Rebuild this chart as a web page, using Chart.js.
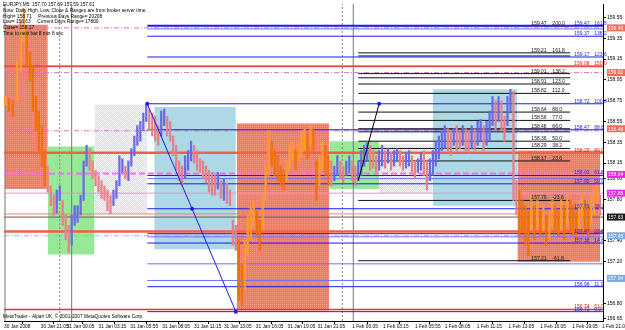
<!DOCTYPE html>
<html>
<head>
<meta charset="utf-8">
<script src="https://cdn.jsdelivr.net/npm/chart.js@4.4.1/dist/chart.umd.min.js"></script>
<style>
  html, body { margin: 0; padding: 0; background: #fff; }
</style>
</head>
<body>
<canvas id="myChart" width="625" height="330"></canvas>
<script>
// EURJPY M5 bars, one unit on the x axis = one bar
var barIndex = [2,6,10,14,18,21,24,27,30,33,36,39,42,45,
  48,51,54,57,60,63,66,69,72,75,78,81,84,87,90,
  93,96,99,102,105,108,111,114,117,120,123,126,129,132,135,138,141,144,
  147,150,153,156,159,162,165,168,171,174,177,180,183,186,189,192,195,198,201,204,207,210,213,216,219,222,225,228,231,234,
  237,240,243,246,249,252,255,258,261,264,267,270,273,276,279,282,285,288,291,294,297,300,303,306,309,312,315,318,321,324,327,
  330,333,336,339,342,345,348,351,354,357,360,363,366,369,372,375,378,
  381,384,387,390,393,396,399,402,405,408,411,414,417,420,423,426,429,
  432,435,438,441,444,447,450,453,456,459,462,465,468,471,474,477,480,483,486,489,492,495,498,501,504,507,510,513,
  516,519,522,525,528,531,534,537,540,543,546,549,552,555,558,561,564,567,570,573,576,579,582,585,588,591,594,597,600];

var barHigh = [158.79,158.77,158.75,159.13,159.51,159.63,159.42,159.22,159.08,158.79,158.65,158.51,158.27,158.12,
  157.93,157.84,157.89,157.93,157.79,157.65,157.55,157.65,157.74,157.74,157.84,158.17,158.32,158.29,158.17,
  158.08,158.03,157.98,157.93,157.89,157.84,157.89,157.98,158.22,158.19,158.12,158.17,158.29,158.41,158.51,158.55,158.63,158.72,
  158.67,158.63,158.60,158.51,158.65,158.67,158.60,158.55,158.41,158.32,158.17,158.12,158.22,158.27,158.36,158.32,158.27,158.19,158.17,158.12,158.08,158.06,158.03,158.06,157.98,158.00,157.96,157.89,157.60,157.55,
  157.41,157.17,157.41,157.65,157.74,157.79,157.69,157.60,157.84,158.12,158.46,158.36,158.27,158.22,158.12,158.08,158.17,158.32,158.36,158.27,158.36,158.46,158.48,158.44,158.51,158.48,158.17,158.22,158.36,158.32,158.22,
  158.17,158.12,158.22,158.17,158.12,158.17,158.22,158.17,158.12,158.17,158.27,158.32,158.36,158.32,158.27,158.22,158.27,
  158.32,158.27,158.29,158.25,158.27,158.29,158.27,158.22,158.25,158.27,158.22,158.17,158.19,158.25,158.27,158.17,158.19,
  158.27,158.36,158.41,158.46,158.51,158.48,158.46,158.48,158.51,158.46,158.51,158.48,158.46,158.51,158.48,158.55,158.57,158.51,158.55,158.65,158.79,158.75,158.79,158.75,158.60,158.79,158.86,158.84,
  157.98,157.89,157.79,157.74,157.69,157.84,157.74,157.79,157.69,157.74,157.65,157.69,157.79,157.74,157.69,157.79,157.74,157.84,157.79,157.74,157.69,157.79,157.84,157.79,157.74,157.84,157.89,157.93,157.84];

var barLow = [158.70,158.65,158.60,158.75,159.03,159.32,159.08,158.94,158.65,158.46,158.27,158.12,157.93,157.87,
  157.74,157.65,157.67,157.79,157.55,157.41,157.29,157.36,157.55,157.58,157.65,157.79,158.12,158.08,158.00,
  157.93,157.87,157.81,157.79,157.69,157.66,157.74,157.81,157.93,158.06,158.00,157.98,158.12,158.22,158.32,158.36,158.46,158.55,
  158.46,158.41,158.36,158.32,158.41,158.51,158.41,158.36,158.22,158.08,157.98,157.93,158.00,158.08,158.17,158.15,158.08,158.06,158.00,157.96,157.87,157.84,157.84,157.90,157.81,157.79,157.76,157.74,157.36,157.31,
  156.83,156.78,156.93,157.26,157.41,157.55,157.45,157.31,157.50,157.79,158.03,158.12,158.03,157.98,157.93,157.89,157.98,158.08,158.17,158.08,158.17,158.22,158.27,158.19,158.32,158.27,157.79,157.93,158.08,158.03,157.93,
  157.93,157.98,158.03,158.00,157.96,158.03,158.06,157.98,157.93,157.98,158.03,158.12,158.17,158.08,158.10,158.06,158.08,
  158.12,158.10,158.15,158.08,158.12,158.17,158.12,158.08,158.10,158.12,158.06,158.00,158.06,158.08,158.03,157.89,157.98,
  158.03,158.12,158.19,158.27,158.29,158.27,158.22,158.32,158.27,158.29,158.32,158.27,158.25,158.29,158.27,158.32,158.36,158.27,158.32,158.36,158.51,158.46,158.55,158.46,158.36,158.51,158.65,157.79,
  157.65,157.45,157.50,157.36,157.26,157.50,157.41,157.55,157.45,157.50,157.36,157.41,157.55,157.50,157.45,157.50,157.41,157.55,157.50,157.45,157.41,157.52,157.60,157.50,157.45,157.55,157.65,157.74,157.65];

// session boxes
var boxStart = [2, 45, 92, 152, 235, 328, 378, 432, 517];
var boxEnd   = [45, 92, 145, 234, 328, 378, 432, 517, 600];
var boxHigh  = [159.48, 158.31, 158.71, 158.69, 158.53, 158.36, 158.33, 158.86, 158.27];
var boxLow   = [157.90, 157.27, 157.66, 157.32, 156.73, 157.90, 157.86, 157.74, 157.20];
var boxKind  = ['red', 'green', 'grey', 'blue', 'red', 'green', 'grey', 'blue', 'red'];

// daily high/low/pivot levels across the whole chart
var fullLevel = [159.45, 159.08, 159.02, 158.46, 158.25, 158.05, 157.86, 157.66, 157.63, 157.49, 157.45, 156.74];
var fullLabel = ['', '150.0', '', '', '80.0', '', '', '', '', '', '', '51.0'];

// fibonacci tool 1 (blue) and tool 2 (black)
var bluePrice = [159.47, 159.44, 159.37, 159.17, 158.72, 158.47, 158.03, 158.00, 157.95, 157.71, 157.47, 157.44, 157.38, 157.18, 157.02, 156.96, 156.72];
var blueLabel = ['161.8', '', '138.2', '123.6', '100.0', '88.6', '61.8', '', '50.0', '38.2', '23.6', '', '14.6', '', '', '11.0', '0.0'];
var blackPrice = [159.47, 159.21, 159.18, 159.01, 158.97, 158.91, 158.82, 158.64, 158.56, 158.48, 158.45, 158.36, 158.29, 158.17, 157.79, 157.21];
var blackLabel = ['200.0', '161.8', '', '138.2', '', '123.0', '112.0', '88.0', '77.0', '66.0', '', '50.0', '38.2', '23.6', '-23.6', '-61.8'];
var blueLegX = [145, 190, 234];
var blueLegY = [158.72, 157.71, 156.72];
var blackLegX = [357, 378];
var blackLegY = [157.98, 158.72];

// period separators
var sepSolid = [2, 69, 352];
var sepDotted = [57, 341];

// price tags on the right axis
var tagValue = [159.45, 159.02, 158.48, 158.04, 157.86, 157.63, 157.45, 157.04];

var xTickPos = [1, 38, 64, 96, 128, 160, 192, 222, 254, 286, 316, 351, 382, 414, 444, 476, 508, 540, 572, 602];
var xTickLabels = ['30 Jan 2008', '30 Jan 21:05', '31 Jan 00:05', '31 Jan 03:15', '31 Jan 05:55', '31 Jan 08:05',
  '31 Jan 11:15', '31 Jan 13:05', '31 Jan 16:05', '31 Jan 19:05', '31 Jan 21:05', '1 Feb 00:05', '1 Feb 03:15',
  '1 Feb 05:55', '1 Feb 08:05', '1 Feb 11:15', '1 Feb 13:05', '1 Feb 16:05', '1 Feb 19:05', '1 Feb 21:05'];
var yTickValues = [159.55, 159.35, 159.15, 158.95, 158.75, 158.55, 158.35, 158.15, 158.00, 157.80, 157.40, 157.20, 156.80, 156.65];

var infoLines = [
  'EURJPY,M5  157.70 157.69 157.59 157.61',
  'Note: Daily High, Low, Close & Ranges are from broker server time.',
  'High= 158.71     Previous Days Range= 20208',
  'Low= 156.63     Current Days Range= 17800',
  'Close= 158.17',
  'Time to next bar 8 min 8 sec'
];
var copyright = 'MetaTrader - Alpari UK, \u00a9 2001-2007 MetaQuotes Software Corp.';

var yMin = 156.63, yMax = 159.68;
var FONT = '"Liberation Sans", Arial, sans-serif';

// styles
var fullColor = ['#e070c8', '#f05040', '#e070c8', '#e070c8', '#f06048', '#f070f0', '#f090d0', '#f08070', '#606060', '#f06048', '#87bde8', '#f03020'];
var fullWidth = [1, 2, 1, 1, 2.5, 2, 1, 1, 1, 2.5, 1, 1.5];
var fullDash = [[5,2,1,2], [], [5,2,1,2], [5,2,1,2], [], [6,3], [], [], [], [], [5,2,1,2], []];
var colA = 531, colB = 574;
var tagColor = ['#f26b5b', '#f26b5b', '#f26b5b', '#ee22ee', '#ee22ee', '#1a1a1a', '#7aa8e8', '#7aa8e8'];

function dotted(base, dot, checker) {
  var c = document.createElement('canvas');
  c.width = 2; c.height = 2;
  var g = c.getContext('2d');
  g.fillStyle = base; g.fillRect(0, 0, 2, 2);
  g.fillStyle = dot; g.fillRect(0, 0, 1, 1);
  if (checker) g.fillRect(1, 1, 1, 1);
  return g.createPattern(c, 'repeat');
}
var boxFill = {
  red: dotted('#f27a64', '#f69a88', false),
  green: '#97e897',
  grey: dotted('#d6d6e0', '#ffffff', true),
  blue: '#add8e6'
};

function kindAt(x) {
  for (var i = 0; i < boxStart.length; i++) {
    if (x >= boxStart[i] && x < boxEnd[i]) return boxKind[i];
  }
  return 'none';
}
var barColors = barIndex.map(function (x, i) {
  var mid = (barHigh[i] + barLow[i]) / 2;
  var prev = i > 0 ? (barHigh[i - 1] + barLow[i - 1]) / 2 : mid;
  if (kindAt(x) === 'red') return mid >= prev ? '#ff9a30' : '#ee7000';
  return mid >= prev ? '#6a6ae8' : '#e8808a';
});

function hline(x0, x1, y, color, width, dash, order) {
  return {
    type: 'line',
    data: [{x: x0, y: y}, {x: x1, y: y}],
    borderColor: color, borderWidth: width, borderDash: dash || [],
    pointRadius: 0, fill: false, order: order
  };
}

var datasets = [];

boxStart.forEach(function (x0, i) {
  datasets.push({
    type: 'line',
    data: [{x: x0, y: boxHigh[i]}, {x: boxEnd[i], y: boxHigh[i]}],
    fill: {value: boxLow[i]},
    backgroundColor: boxFill[boxKind[i]],
    borderColor: 'transparent', borderWidth: 0, pointRadius: 0, order: 20
  });
});

sepSolid.forEach(function (x) {
  datasets.push({type: 'line', data: [{x: x, y: yMin}, {x: x, y: yMax}], borderColor: '#777', borderWidth: 1, pointRadius: 0, order: 15});
});
sepDotted.forEach(function (x) {
  datasets.push({type: 'line', data: [{x: x, y: yMin}, {x: x, y: yMax}], borderColor: '#888', borderWidth: 1, borderDash: [2, 2], pointRadius: 0, order: 15});
});

fullLevel.forEach(function (p, i) {
  datasets.push(hline(1, 603, p, fullColor[i], fullWidth[i], fullDash[i], 8));
});
bluePrice.forEach(function (p, i) {
  var light = blueLabel[i] === '';
  datasets.push(hline(145, 603, p, light ? '#6f6fff' : '#1c1cf0', i === 0 ? 2 : 1, [], 7));
});
blackPrice.forEach(function (p) {
  datasets.push(hline(357, 570, p, '#111', 1, [], 7));
});

datasets.push({
  type: 'bar',
  data: barIndex.map(function (x, i) { return {x: x, y: [barLow[i], barHigh[i]]}; }),
  backgroundColor: barColors,
  barThickness: 1.6,
  order: 3
});

datasets.push({
  type: 'line',
  data: blueLegX.map(function (x, i) { return {x: x, y: blueLegY[i]}; }),
  borderColor: '#1c1cf0', borderWidth: 1, pointRadius: 2, pointBackgroundColor: '#1c1cf0', pointBorderWidth: 0, order: 1
});
datasets.push({
  type: 'line',
  data: blackLegX.map(function (x, i) { return {x: x, y: blackLegY[i]}; }),
  borderColor: '#000', borderWidth: 1, pointRadius: [0, 2], pointBackgroundColor: '#1c1cf0', pointBorderWidth: 0, order: 1
});

var overlay = {
  id: 'overlay',
  afterDraw: function (chart) {
    var ctx = chart.ctx, xs = chart.scales.x, ys = chart.scales.y, area = chart.chartArea;
    ctx.save();
    ctx.font = '5px ' + FONT;
    ctx.textAlign = 'left';

    // fib labels
    ctx.textBaseline = 'bottom';
    blackPrice.forEach(function (p, i) {
      if (!blackLabel[i]) return;
      var y = ys.getPixelForValue(p);
      ctx.fillStyle = '#111';
      ctx.fillText(p.toFixed(2), xs.getPixelForValue(colA), y);
      ctx.fillText(blackLabel[i], xs.getPixelForValue(colA) + 21, y);
    });
    bluePrice.forEach(function (p, i) {
      if (!blueLabel[i]) return;
      var y = ys.getPixelForValue(p);
      ctx.fillStyle = '#1c1cf0';
      ctx.fillText(p.toFixed(2), xs.getPixelForValue(colB), y);
      ctx.fillText(blueLabel[i], xs.getPixelForValue(colB) + 20, y);
    });
    fullLevel.forEach(function (p, i) {
      if (!fullLabel[i]) return;
      var y = ys.getPixelForValue(p);
      ctx.fillStyle = '#e02010';
      ctx.fillText(p.toFixed(2), xs.getPixelForValue(colB), y);
      ctx.fillText(fullLabel[i], xs.getPixelForValue(colB) + 20, y);
    });

    // info text
    ctx.font = '4.8px ' + FONT;
    ctx.textBaseline = 'middle';
    ctx.fillStyle = '#000';
    infoLines.forEach(function (t, i) {
      ctx.fillText(t, 3, 5 + i * 5.7);
    });
    ctx.fillText(copyright, 3, area.bottom - 4);

    // price tags
    ctx.font = '5px ' + FONT;
    tagValue.forEach(function (v, i) {
      var y = ys.getPixelForValue(v);
      ctx.fillStyle = tagColor[i];
      ctx.fillRect(area.right + 4, y - 3.5, 625 - area.right - 4, 7);
      ctx.fillStyle = '#fff';
      ctx.fillText(v.toFixed(2), area.right + 5, y + 0.5);
    });
    ctx.restore();
  }
};

var ctx = document.getElementById('myChart');
var myChart = new Chart(ctx, {
  type: 'bar',
  data: { datasets: datasets },
  plugins: [overlay],
  options: {
    responsive: false,
    animation: false,
    layout: { padding: { top: 2, left: 1, right: 0, bottom: 0 } },
    plugins: { legend: { display: false }, tooltip: { enabled: false } },
    scales: {
      x: {
        type: 'linear', min: 1, max: 603, offset: false,
        afterBuildTicks: function (s) { s.ticks = xTickPos.map(function (v) { return {value: v}; }); },
        afterFit: function (s) { s.height = 9; s.paddingLeft = 0; s.paddingRight = 0; },
        ticks: {
          autoSkip: false, maxRotation: 0, minRotation: 0, align: 'start', padding: 0,
          color: '#000', font: { family: FONT, size: 4.8 },
          callback: function (v, i) { return xTickLabels[i]; }
        },
        grid: { drawOnChartArea: false, tickLength: 3, color: '#000' },
        border: { color: '#000' }
      },
      y: {
        position: 'right', min: yMin, max: yMax, beginAtZero: false,
        afterBuildTicks: function (s) { s.ticks = yTickValues.map(function (v) { return {value: v}; }); },
        afterFit: function (s) { s.width = 22; s.paddingTop = 0; s.paddingBottom = 0; },
        ticks: {
          padding: 1, color: '#000', font: { family: FONT, size: 5 },
          callback: function (v) { return v.toFixed(2); }
        },
        grid: { drawOnChartArea: false, tickLength: 3, color: '#000' },
        border: { color: '#000' }
      }
    }
  }
});
</script>
</body>
</html>
